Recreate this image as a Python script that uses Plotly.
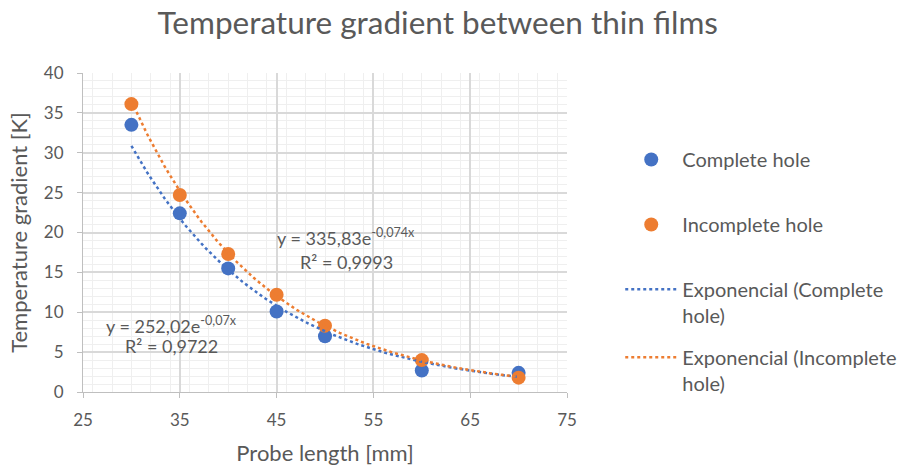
import numpy as np
import plotly.graph_objects as go

probe_length = [30, 35, 40, 45, 50, 60, 70]
complete_hole = [33.5, 22.4, 15.5, 10.1, 7.0, 2.7, 2.4]
incomplete_hole = [36.1, 24.7, 17.3, 12.2, 8.3, 4.0, 1.8]

# Displayed trendline coefficients (y = a * e^(b x))
fit_complete = (252.02, -0.07)
fit_incomplete = (335.83, -0.074)

x_ticks = [25, 35, 45, 55, 65, 75]
y_ticks = [0, 5, 10, 15, 20, 25, 30, 35, 40]

BLUE = "#4472C4"
ORANGE = "#ED7D31"
TXT = "#595959"
FONT = "Lato"

xf = np.linspace(min(probe_length), max(probe_length), 200)

fig = go.Figure()
fig.add_trace(go.Scatter(x=probe_length, y=complete_hole, mode="markers",
                         name="Complete hole", legendgroup="a", legend="legend",
                         marker=dict(color=BLUE, size=14)))
fig.add_trace(go.Scatter(x=probe_length, y=incomplete_hole, mode="markers",
                         name="Incomplete hole", legendgroup="b", legend="legend",
                         marker=dict(color=ORANGE, size=14)))
fig.add_trace(go.Scatter(x=xf, y=fit_complete[0] * np.exp(fit_complete[1] * xf), mode="lines",
                         name="Exponencial (Complete<br>hole)", legendgroup="c", legend="legend2",
                         line=dict(color=BLUE, width=2.5, dash="dot")))
fig.add_trace(go.Scatter(x=xf, y=fit_incomplete[0] * np.exp(fit_incomplete[1] * xf), mode="lines",
                         name="Exponencial (Incomplete<br>hole)", legendgroup="d", legend="legend2",
                         line=dict(color=ORANGE, width=2.5, dash="dot")))

ann_font = dict(family=FONT, size=18, color=TXT)
fig.add_annotation(x=34.1, y=8.4, text="y = 252,02e<sup>-0,07x</sup>", showarrow=False, font=ann_font)
fig.add_annotation(x=34.1, y=5.8, text="R² = 0,9722", showarrow=False, font=ann_font)
fig.add_annotation(x=52.2, y=19.4, text="y = 335,83e<sup>-0,074x</sup>", showarrow=False, font=ann_font)
fig.add_annotation(x=52.2, y=16.3, text="R² = 0,9993", showarrow=False, font=ann_font)

leg_font = dict(family=FONT, size=20, color=TXT)
fig.update_layout(
    width=899, height=466,
    margin=dict(l=83, r=332, t=73, b=74, autoexpand=False),
    paper_bgcolor="white", plot_bgcolor="white",
    font=dict(family=FONT, color=TXT),
    title=dict(text="Temperature gradient between thin films", x=0.487, xref="container", xanchor="center",
               y=0.95, yanchor="middle", font=dict(family=FONT, size=31.5, color=TXT)),
    showlegend=True,
    legend=dict(x=1.11, y=0.79, xanchor="left", yanchor="top", font=leg_font, valign="top",
                tracegroupgap=36, itemwidth=52, bgcolor="rgba(0,0,0,0)"),
    legend2=dict(x=1.11, y=0.383, xanchor="left", yanchor="top", font=leg_font, valign="top",
                 tracegroupgap=13, itemwidth=52, bgcolor="rgba(0,0,0,0)"),
)
fig.update_xaxes(range=[25, 75], tickvals=x_ticks, showline=True, linecolor="#BFBFBF", linewidth=1,
                 ticks="outside", ticklen=5, tickcolor="#BFBFBF", ticklabelstandoff=8, automargin=False,
                 showgrid=True, gridcolor="#D9D9D9", gridwidth=1.5, zeroline=False,
                 minor=dict(dtick=2, showgrid=True, gridcolor="#EFEFEF", gridwidth=1),
                 tickfont=dict(family=FONT, size=17, color=TXT),
                 title=dict(text="Probe length [mm]", font=dict(family=FONT, size=22, color=TXT), standoff=16))
fig.update_yaxes(range=[0, 40], tickvals=y_ticks, showline=True, linecolor="#BFBFBF", linewidth=1,
                 ticks="outside", ticklen=5, tickcolor="#BFBFBF", ticklabelstandoff=10, automargin=False,
                 showgrid=True, gridcolor="#D9D9D9", gridwidth=1.5, zeroline=False,
                 minor=dict(dtick=1, showgrid=True, gridcolor="#EFEFEF", gridwidth=1),
                 tickfont=dict(family=FONT, size=17, color=TXT),
                 title=dict(text="Temperature gradient [K]", font=dict(family=FONT, size=22, color=TXT), standoff=10))

fig.write_html("out.html")
